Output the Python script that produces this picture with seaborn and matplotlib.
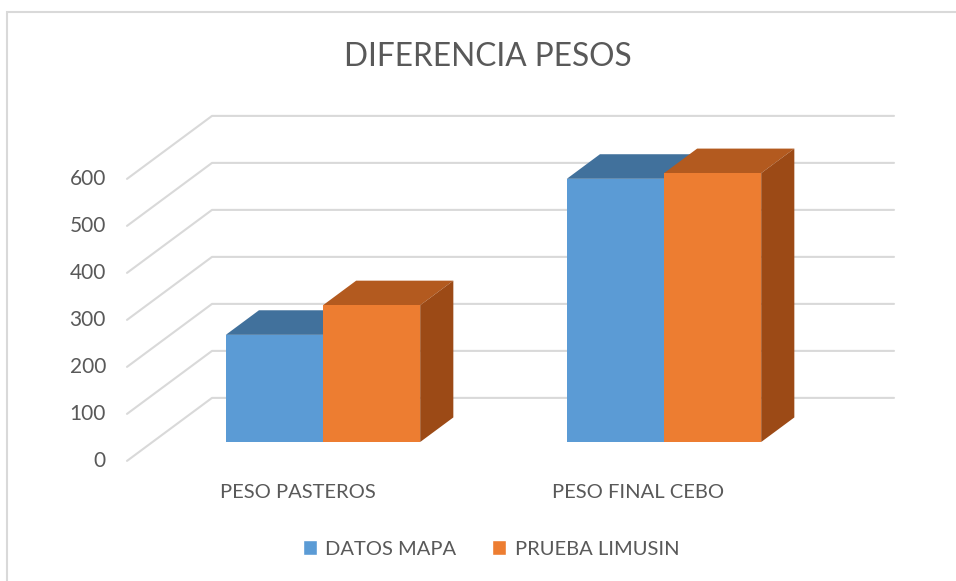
import pandas as pd
import seaborn as sns
import matplotlib.pyplot as plt
from matplotlib.patches import Polygon, Patch, Rectangle

# Data
categorias = ["PESO PASTEROS", "PESO FINAL CEBO"]
series = ["DATOS MAPA", "PRUEBA LIMUSIN"]
datos_mapa = [228, 560]
prueba_limusin = [291, 572]
y_ticks = [0, 100, 200, 300, 400, 500, 600]

# Colours (front, top, side)
front_colors = ["#5B9BD5", "#ED7D31"]
top_colors = ["#41719C", "#B35A1F"]
side_colors = ["#3A6690", "#9C4A16"]
grid_color = "#D9D9D9"
text_color = "#595959"

# Layout of the fake 3D projection (in pixels of the 956x581 figure)
W, H, DPI = 956, 581, 100
PX_PER_CAT = 341.0
X0_PX = 323.0
PX_PER_VAL = 0.47
Y0_PX = 442.0
DEPTH_DX_PX = 85.0
DEPTH_DY_PX = 63.0
BAR_PLANE = 0.30   # depth of the bar front faces (0 = front edge, 1 = back wall)
BAR_DEPTH = 0.39

ddx = DEPTH_DX_PX / PX_PER_CAT
ddy = DEPTH_DY_PX / PX_PER_VAL

sns.set_theme(style="white")
plt.rcParams["font.family"] = ["Lato", "DejaVu Sans"]

df = pd.DataFrame({
    "categoria": categorias * 2,
    "serie": [series[0]] * 2 + [series[1]] * 2,
    "peso": datos_mapa + prueba_limusin,
})

fig = plt.figure(figsize=(W / DPI, H / DPI), dpi=DPI)
ax = fig.add_axes([0, 0, 1, 1])


def shift(x, y, t):
    """Move a point from the bar plane to depth t."""
    return x + (t - BAR_PLANE) * ddx, y + (t - BAR_PLANE) * ddy


# back wall gridlines and floor diagonals
x_left, x_right = -0.5, 1.5
for v in y_ticks:
    fx, fy = shift(x_left, v, 0)
    bx, by = shift(x_left, v, 1)
    ex, ey = shift(x_right, v, 1)
    ax.plot([fx, bx, ex], [fy, by, ey], color=grid_color, lw=1.5, zorder=1)
    ax.text(fx - 21 / PX_PER_CAT, fy, str(v), ha="right", va="center",
            fontsize=15, color=text_color)

sns.barplot(data=df, x="categoria", y="peso", hue="serie", palette=front_colors,
            width=0.57, saturation=1, ax=ax, legend=False, zorder=3, linewidth=0)

# add the top and side faces of each bar
for i, bar in enumerate(ax.patches):
    s = i // len(categorias)
    x0, w, h = bar.get_x(), bar.get_width(), bar.get_height()
    z = 3 + s * 2
    bar.set_zorder(z + 1)
    t1 = BAR_PLANE + BAR_DEPTH
    top = [(x0, h), (x0 + w, h), shift(x0 + w, h, t1), shift(x0, h, t1)]
    side = [(x0 + w, 0), (x0 + w, h), shift(x0 + w, h, t1), shift(x0 + w, 0, t1)]
    ax.add_patch(Polygon(top, closed=True, facecolor=top_colors[s], lw=0, zorder=z))
    ax.add_patch(Polygon(side, closed=True, facecolor=side_colors[s], lw=0, zorder=z))

# category labels under the front edge
for i, c in enumerate(categorias):
    lx, ly = shift(i, 0, 0)
    ax.text(lx, ly - 32 / PX_PER_VAL, c, ha="center", va="center",
            fontsize=14.5, color=text_color)

ax.set_xlim(-X0_PX / PX_PER_CAT, (W - X0_PX) / PX_PER_CAT)
ax.set_ylim(-(H - Y0_PX) / PX_PER_VAL, Y0_PX / PX_PER_VAL)
ax.axis("off")

fig.text(488 / W, 1 - 57 / H, "DIFERENCIA PESOS", ha="center", va="center",
         fontsize=22.8, color=text_color)

handles = [Patch(facecolor=front_colors[k], label=series[k]) for k in range(2)]
fig.legend(handles=handles, loc="center", bbox_to_anchor=(491 / W, 1 - 549 / H),
           ncol=2, frameon=False, fontsize=14.5, handlelength=0.7, handleheight=0.7,
           handletextpad=0.4, columnspacing=1.8, labelcolor=text_color)

# chart area border (only left and top edges are visible)
fig.patches.append(Rectangle((7 / W, -0.05), 1.1, 1.05 - 12 / H, transform=fig.transFigure,
                             fill=False, edgecolor=grid_color, lw=1.5))

fig.savefig("out.png", dpi=DPI, facecolor="white")
